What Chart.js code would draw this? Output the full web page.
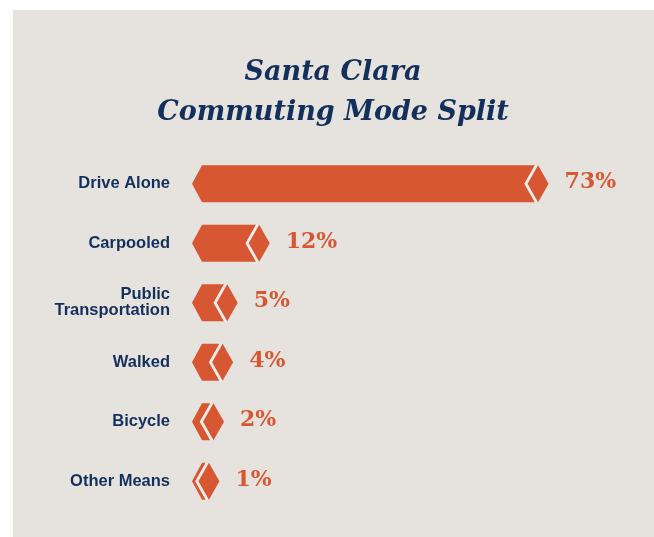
<!DOCTYPE html>
<html>
<head>
<meta charset="utf-8">
<script src="https://cdn.jsdelivr.net/npm/chart.js@4"></script>
<style>
  html, body { margin: 0; padding: 0; background: #ffffff; }
  #wrap { width: 654px; height: 537px; position: relative; }
</style>
</head>
<body>
<div id="wrap"><canvas id="modeChart"></canvas></div>
<script>
  // Santa Clara commuting mode split
  const modes   = ["Drive Alone", "Carpooled", ["Public", "Transportation"], "Walked", "Bicycle", "Other Means"];
  const shares  = [73, 12, 5, 4, 2, 1];
  const titleLines = ["Santa Clara", "Commuting Mode Split"];

  const ORANGE = "#d85733";
  const NAVY   = "#13305c";
  const PANEL  = "#e6e2de";

  // beige panel behind everything (white margin on the top / left)
  const panelBg = {
    id: "panelBg",
    beforeDraw(chart) {
      const { ctx, width, height } = chart;
      ctx.save();
      ctx.fillStyle = "#ffffff";
      ctx.fillRect(0, 0, width, height);
      ctx.fillStyle = PANEL;
      ctx.fillRect(13, 10, width - 13, height - 10);
      ctx.restore();
    }
  };

  // Arrow-shaped bars: hex point at the base, notch + diamond tip at the value
  const arrowBars = {
    id: "arrowBars",
    afterDatasetsDraw(chart) {
      const { ctx } = chart;
      const meta = chart.getDatasetMeta(0);
      const hw = 10.5, gap = 3;
      ctx.save();
      meta.data.forEach((el, i) => {
        const x0 = el.base, x1 = el.x, y = el.y, h = el.height;
        const top = y - h / 2, bot = y + h / 2;

        // body
        ctx.beginPath();
        ctx.moveTo(x0, y);
        ctx.lineTo(x0 + 10, top);
        ctx.lineTo(x1 - hw - gap, top);
        ctx.lineTo(x1 - 2 * hw - gap, y);
        ctx.lineTo(x1 - hw - gap, bot);
        ctx.lineTo(x0 + 10, bot);
        ctx.closePath();
        ctx.fillStyle = ORANGE;
        ctx.fill();

        // pale gap
        ctx.beginPath();
        ctx.moveTo(x1 - hw - gap / 2, top);
        ctx.lineTo(x1 - 2 * hw - gap / 2, y);
        ctx.lineTo(x1 - hw - gap / 2, bot);
        ctx.strokeStyle = "#f2ece8";
        ctx.lineWidth = gap;
        ctx.stroke();

        // diamond tip
        ctx.beginPath();
        ctx.moveTo(x1 - hw, top);
        ctx.lineTo(x1, y);
        ctx.lineTo(x1 - hw, bot);
        ctx.lineTo(x1 - 2 * hw, y);
        ctx.closePath();
        ctx.fillStyle = ORANGE;
        ctx.fill();

        // value label
        ctx.fillStyle = ORANGE;
        ctx.font = "bold 22px 'DejaVu Serif'";
        ctx.textAlign = "left";
        ctx.textBaseline = "middle";
        ctx.fillText(shares[i] + "%", x1 + 16, y - 1);
      });
      ctx.restore();
    }
  };

  new Chart(document.getElementById("modeChart"), {
    type: "bar",
    data: {
      labels: modes,
      datasets: [{
        data: shares,
        base: -5,
        backgroundColor: "rgba(0,0,0,0)",
        borderWidth: 0,
        barThickness: 37
      }]
    },
    options: {
      indexAxis: "y",
      responsive: true,
      maintainAspectRatio: false,
      animation: false,
      layout: { padding: { top: 53, right: 14, bottom: 26, left: 26 } },
      plugins: {
        legend: { display: false },
        tooltip: { enabled: false },
        title: {
          display: true,
          text: titleLines,
          color: NAVY,
          font: { family: "'DejaVu Serif'", size: 27, weight: "bold", style: "italic", lineHeight: 1.48 },
          padding: { top: 0, bottom: 21 }
        }
      },
      scales: {
        x: { display: false, min: -5, max: 93 },
        y: {
          grid: { display: false },
          border: { display: false },
          ticks: {
            color: NAVY,
            padding: 14,
            font: { family: "'Liberation Sans'", size: 16.5, weight: "bold", lineHeight: 0.95 }
          },
          afterFit(scale) { scale.width = 166; }
        }
      }
    },
    plugins: [panelBg, arrowBars]
  });
</script>
</body>
</html>
